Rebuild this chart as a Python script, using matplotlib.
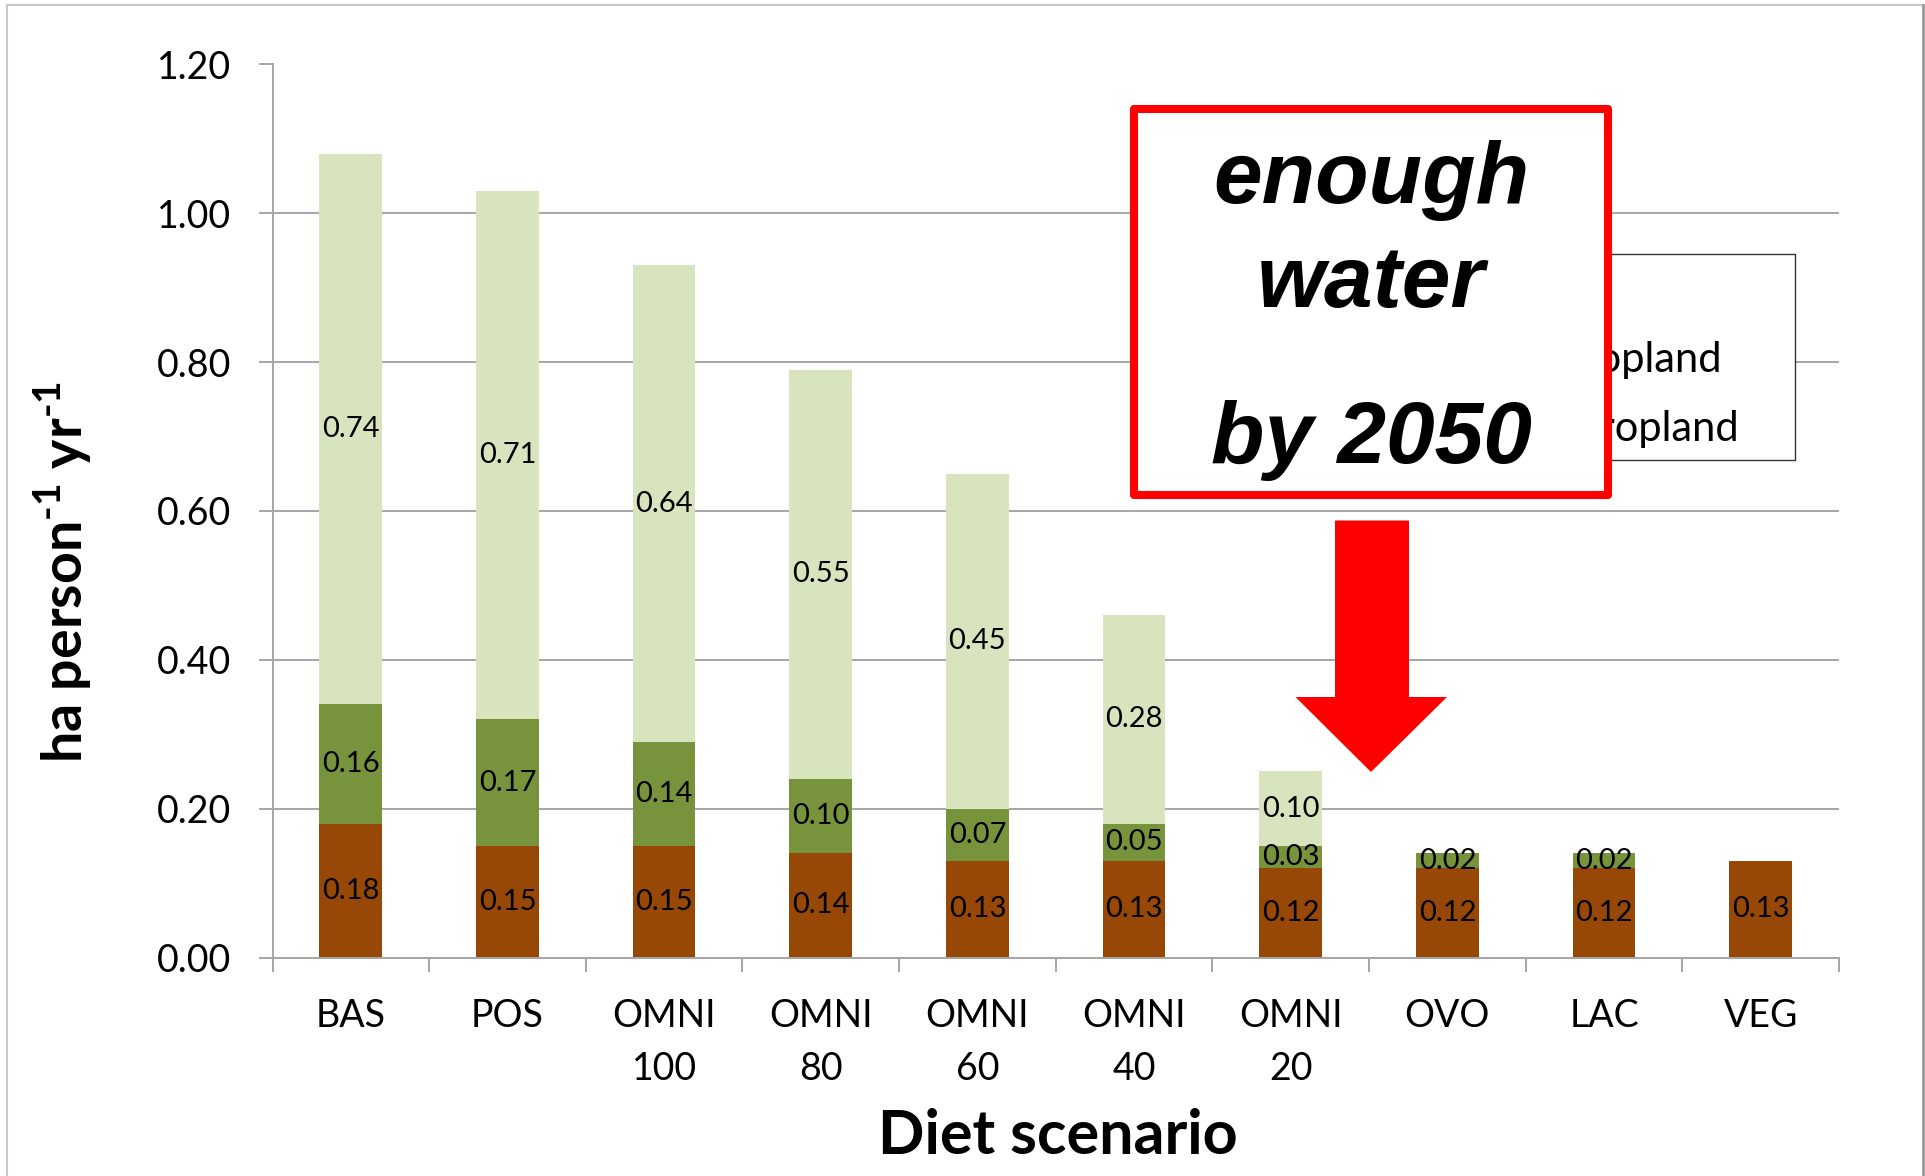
import matplotlib
matplotlib.use("Agg")
import matplotlib.pyplot as plt
from matplotlib.patches import Rectangle, Polygon
from matplotlib.lines import Line2D
import numpy as np

# ---- data -------------------------------------------------------------
scenarios = ["BAS", "POS", "OMNI\n100", "OMNI\n80", "OMNI\n60",
             "OMNI\n40", "OMNI\n20", "OVO", "LAC", "VEG"]
cultivated = [0.18, 0.15, 0.15, 0.14, 0.13, 0.13, 0.12, 0.12, 0.12, 0.13]
perennial = [0.16, 0.17, 0.14, 0.10, 0.07, 0.05, 0.03, 0.02, 0.02, 0.00]
grazing = [0.74, 0.71, 0.64, 0.55, 0.45, 0.28, 0.10, 0.00, 0.00, 0.00]
series_names = ["Cultivated cropland", "Perennial cropland", "Grassland"]
series_colors = ["#974706", "#77933C", "#D7E4BD"]
y_ticks = [0.00, 0.20, 0.40, 0.60, 0.80, 1.00, 1.20]
callout_lines = ["enough", "water", "by 2050"]

# ---- style ------------------------------------------------------------
plt.rcParams["font.family"] = ["Lato", "DejaVu Sans"]
plt.rcParams["mathtext.fontset"] = "custom"
plt.rcParams["mathtext.rm"] = "Lato:bold"
plt.rcParams["mathtext.bf"] = "Lato:bold"
GRID = "#A6A6A6"

W, H = 1925, 1176
fig = plt.figure(figsize=(W / 100, H / 100), dpi=100)


def fx(px):
    return px / W


def fy(py):
    return 1 - py / H


ax = fig.add_axes([fx(272.5), fy(957.5), (1839 - 272.5) / W, (957.5 - 64.5) / H])

x = np.arange(len(scenarios))
base = np.zeros(len(scenarios))
for vals, col in zip([cultivated, perennial, grazing], series_colors):
    vals = np.asarray(vals)
    ax.bar(x, vals, 0.40, bottom=base, color=col, linewidth=0, zorder=2)
    for xi, b, v in zip(x, base, vals):
        if v > 0:
            ax.text(xi, b + v / 2, f"{v:.2f}", ha="center", va="center",
                    fontsize=21, color="black", zorder=3)
    base = base + vals

ax.set_xlim(-0.5, len(scenarios) - 0.5)
ax.set_ylim(0, 1.2)
ax.set_axisbelow(True)
ax.yaxis.grid(True, color=GRID, linewidth=1.4)

for s in ["top", "right"]:
    ax.spines[s].set_visible(False)
for s in ["left", "bottom"]:
    ax.spines[s].set_color(GRID)
    ax.spines[s].set_linewidth(1.4)

ax.set_yticks(y_ticks)
ax.set_yticklabels([f"{t:.2f}" for t in y_ticks])
ax.tick_params(axis="y", direction="out", length=10, width=1.4, color=GRID,
               labelsize=27, pad=20)

ax.set_xticks(x)
ax.set_xticklabels(scenarios, linespacing=1.6)
ax.tick_params(axis="x", which="major", length=0, labelsize=27, pad=29)
ax.set_xticks(np.arange(-0.5, len(scenarios), 1.0), minor=True)
ax.tick_params(axis="x", which="minor", direction="out", length=10,
               width=1.4, color=GRID)

# ---- axis titles --------------------------------------------------------
fig.text(fx(82), fy(572), r"ha person$^{\text{-}1}$ yr$^{\text{-}1}$",
         rotation=90, rotation_mode="anchor", ha="center", va="baseline",
         fontsize=40, fontweight="bold")
fig.text(fx(1058), fy(1154), "Diet scenario", ha="center", va="baseline",
         fontsize=44, fontweight="bold")

# ---- legend (partly covered by the call-out) ----------------------------
tf = fig.transFigure
LEG_FS = 30
ax.add_patch(Rectangle((fx(1450), fy(460)), fx(1795) - fx(1450), fy(254) - fy(460),
                       transform=tf, facecolor="white", edgecolor="#333333",
                       linewidth=1.0, zorder=6, clip_on=False))
renderer = fig.canvas.get_renderer()
probe = fig.text(0, 0, series_names[0], fontsize=LEG_FS)
longest = probe.get_window_extent(renderer).width
probe.remove()
text_x = 1739 - longest
for name, col, base_y in zip(series_names[::-1], series_colors[::-1], [304, 372, 441]):
    ax.add_patch(Rectangle((fx(text_x - 36), fy(base_y - 2)), 22 / W, 22 / H,
                           transform=tf, facecolor=col, edgecolor="none",
                           zorder=7, clip_on=False))
    ax.text(fx(text_x), fy(base_y), name, transform=tf, ha="left", va="baseline",
            fontsize=LEG_FS, zorder=7, clip_on=False)

# ---- red call-out box and arrow ------------------------------------------
ax.add_patch(Rectangle((fx(1134), fy(495)), fx(1608) - fx(1134), fy(109) - fy(495),
                       transform=tf, facecolor="white", edgecolor="#FF0000",
                       linewidth=5.8, joinstyle="round", zorder=10, clip_on=False))
for line, base_y in zip(callout_lines, [203, 307, 463]):
    ax.text(fx(1371), fy(base_y), line, transform=tf, ha="center", va="baseline",
            fontsize=63, fontweight="bold", fontstyle="italic",
            family="Liberation Sans", zorder=11, clip_on=False)

arrow_px = [(1335, 520.5), (1409, 520.5), (1409, 697), (1447, 697),
            (1371, 772), (1295.5, 697), (1335, 697)]
ax.add_patch(Polygon([(fx(a), fy(b)) for a, b in arrow_px], closed=True,
                     transform=tf, facecolor="#FF0000", edgecolor="none",
                     zorder=10, clip_on=False))

# ---- outer frame ---------------------------------------------------------
fig.add_artist(Line2D([fx(7), fx(1922)], [fy(5), fy(5)], color="#C8C8C8", lw=1.5))
fig.add_artist(Line2D([fx(7), fx(7)], [fy(5), 0], color="#C8C8C8", lw=1.5))
fig.add_artist(Line2D([fx(1922.5), fx(1922.5)], [fy(5), 0], color="#999999", lw=2))

fig.savefig("out.png", dpi=100, facecolor="white")
